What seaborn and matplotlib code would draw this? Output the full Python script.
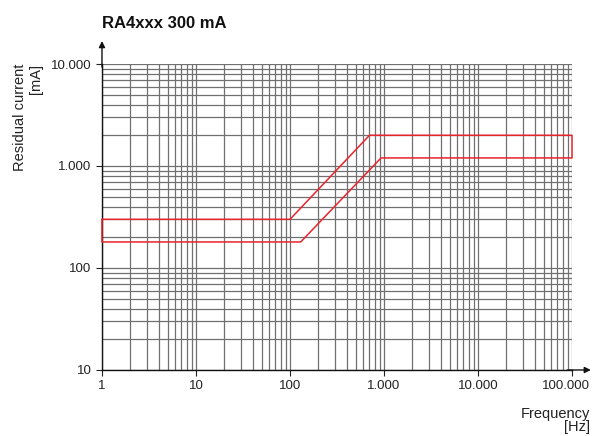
import matplotlib
matplotlib.use("Agg")
import matplotlib.pyplot as plt
import matplotlib.ticker as mticker
import matplotlib.transforms as mtransforms
import seaborn as sns
import pandas as pd

# tripping band outline (closed), frequency in Hz, current in mA
freq_hz = [1, 100, 700, 100000, 100000, 930, 130, 1, 1]
current_ma = [300, 300, 2000, 2000, 1200, 1200, 180, 180, 300]

x_ticks = [1, 10, 100, 1000, 10000, 100000]
x_labels = ["1", "10", "100", "1.000", "10.000", "100.000"]
y_ticks = [10, 100, 1000, 10000]
y_labels = ["10", "100", "1.000", "10.000"]

sns.set_style("white")
plt.rcParams["font.family"] = ["Liberation Sans", "DejaVu Sans"]

fig = plt.figure(figsize=(5.95, 4.36), dpi=100)
ax = fig.add_axes([0.1714, 0.1514, 0.79, 0.7018])

band = pd.DataFrame({"f": freq_hz, "i": current_ma})
sns.lineplot(data=band, x="f", y="i", sort=False, estimator=None,
             color="#e8242c", linewidth=1.1, ax=ax, zorder=5)
for ln in ax.lines:
    ln.set_clip_on(False)

ax.set_xscale("log")
ax.set_yscale("log")
ax.set_xlim(1, 100000)
ax.set_ylim(10, 10000)

ax.xaxis.set_major_locator(mticker.FixedLocator(x_ticks))
ax.xaxis.set_major_formatter(mticker.FixedFormatter(x_labels))
ax.yaxis.set_major_locator(mticker.FixedLocator(y_ticks))
ax.yaxis.set_major_formatter(mticker.FixedFormatter(y_labels))
ax.xaxis.set_minor_locator(mticker.LogLocator(base=10, subs=range(2, 10)))
ax.yaxis.set_minor_locator(mticker.LogLocator(base=10, subs=range(2, 10)))
ax.xaxis.set_minor_formatter(mticker.NullFormatter())
ax.yaxis.set_minor_formatter(mticker.NullFormatter())

ax.grid(True, which="both", color="#707070", linewidth=0.9)
ax.tick_params(which="major", direction="out", length=4, width=0.8,
               labelsize=9.5, colors="#222222", bottom=True, left=True)
ax.tick_params(which="minor", length=0)

# nudge the last x label so it stays inside the figure
last = ax.get_xticklabels()[-1]
last.set_transform(last.get_transform() +
                   mtransforms.ScaledTranslation(-6 / 100, 0, fig.dpi_scale_trans))

for s in ["top", "right"]:
    ax.spines[s].set_visible(False)
for s in ["left", "bottom"]:
    ax.spines[s].set_color("#111111")
    ax.spines[s].set_linewidth(1.0)

ax.set_xlabel("")
ax.set_ylabel("")

# axis arrows
ax.annotate("", xy=(0, 1.075), xytext=(0, 0.99), xycoords="axes fraction",
            arrowprops=dict(arrowstyle="-|>", color="#111111", lw=1.0,
                            mutation_scale=9, shrinkA=0, shrinkB=0),
            annotation_clip=False)
ax.annotate("", xy=(1.04, 0), xytext=(0.99, 0), xycoords="axes fraction",
            arrowprops=dict(arrowstyle="-|>", color="#111111", lw=1.0,
                            mutation_scale=9, shrinkA=0, shrinkB=0),
            annotation_clip=False)

fig.text(0.1714, 0.945, "RA4xxx 300 mA", fontsize=12, fontweight="bold",
         ha="left", va="center", color="#111111")
fig.text(0.047, 0.73, "Residual current\n[mA]", rotation=90, fontsize=10.5,
         ha="center", va="center", multialignment="right", color="#222222")
fig.text(0.992, 0.035, "Frequency\n[Hz]", fontsize=10.5, ha="right",
         va="center", multialignment="right", color="#222222",
         linespacing=0.9)

fig.savefig("out.png", dpi=100)
